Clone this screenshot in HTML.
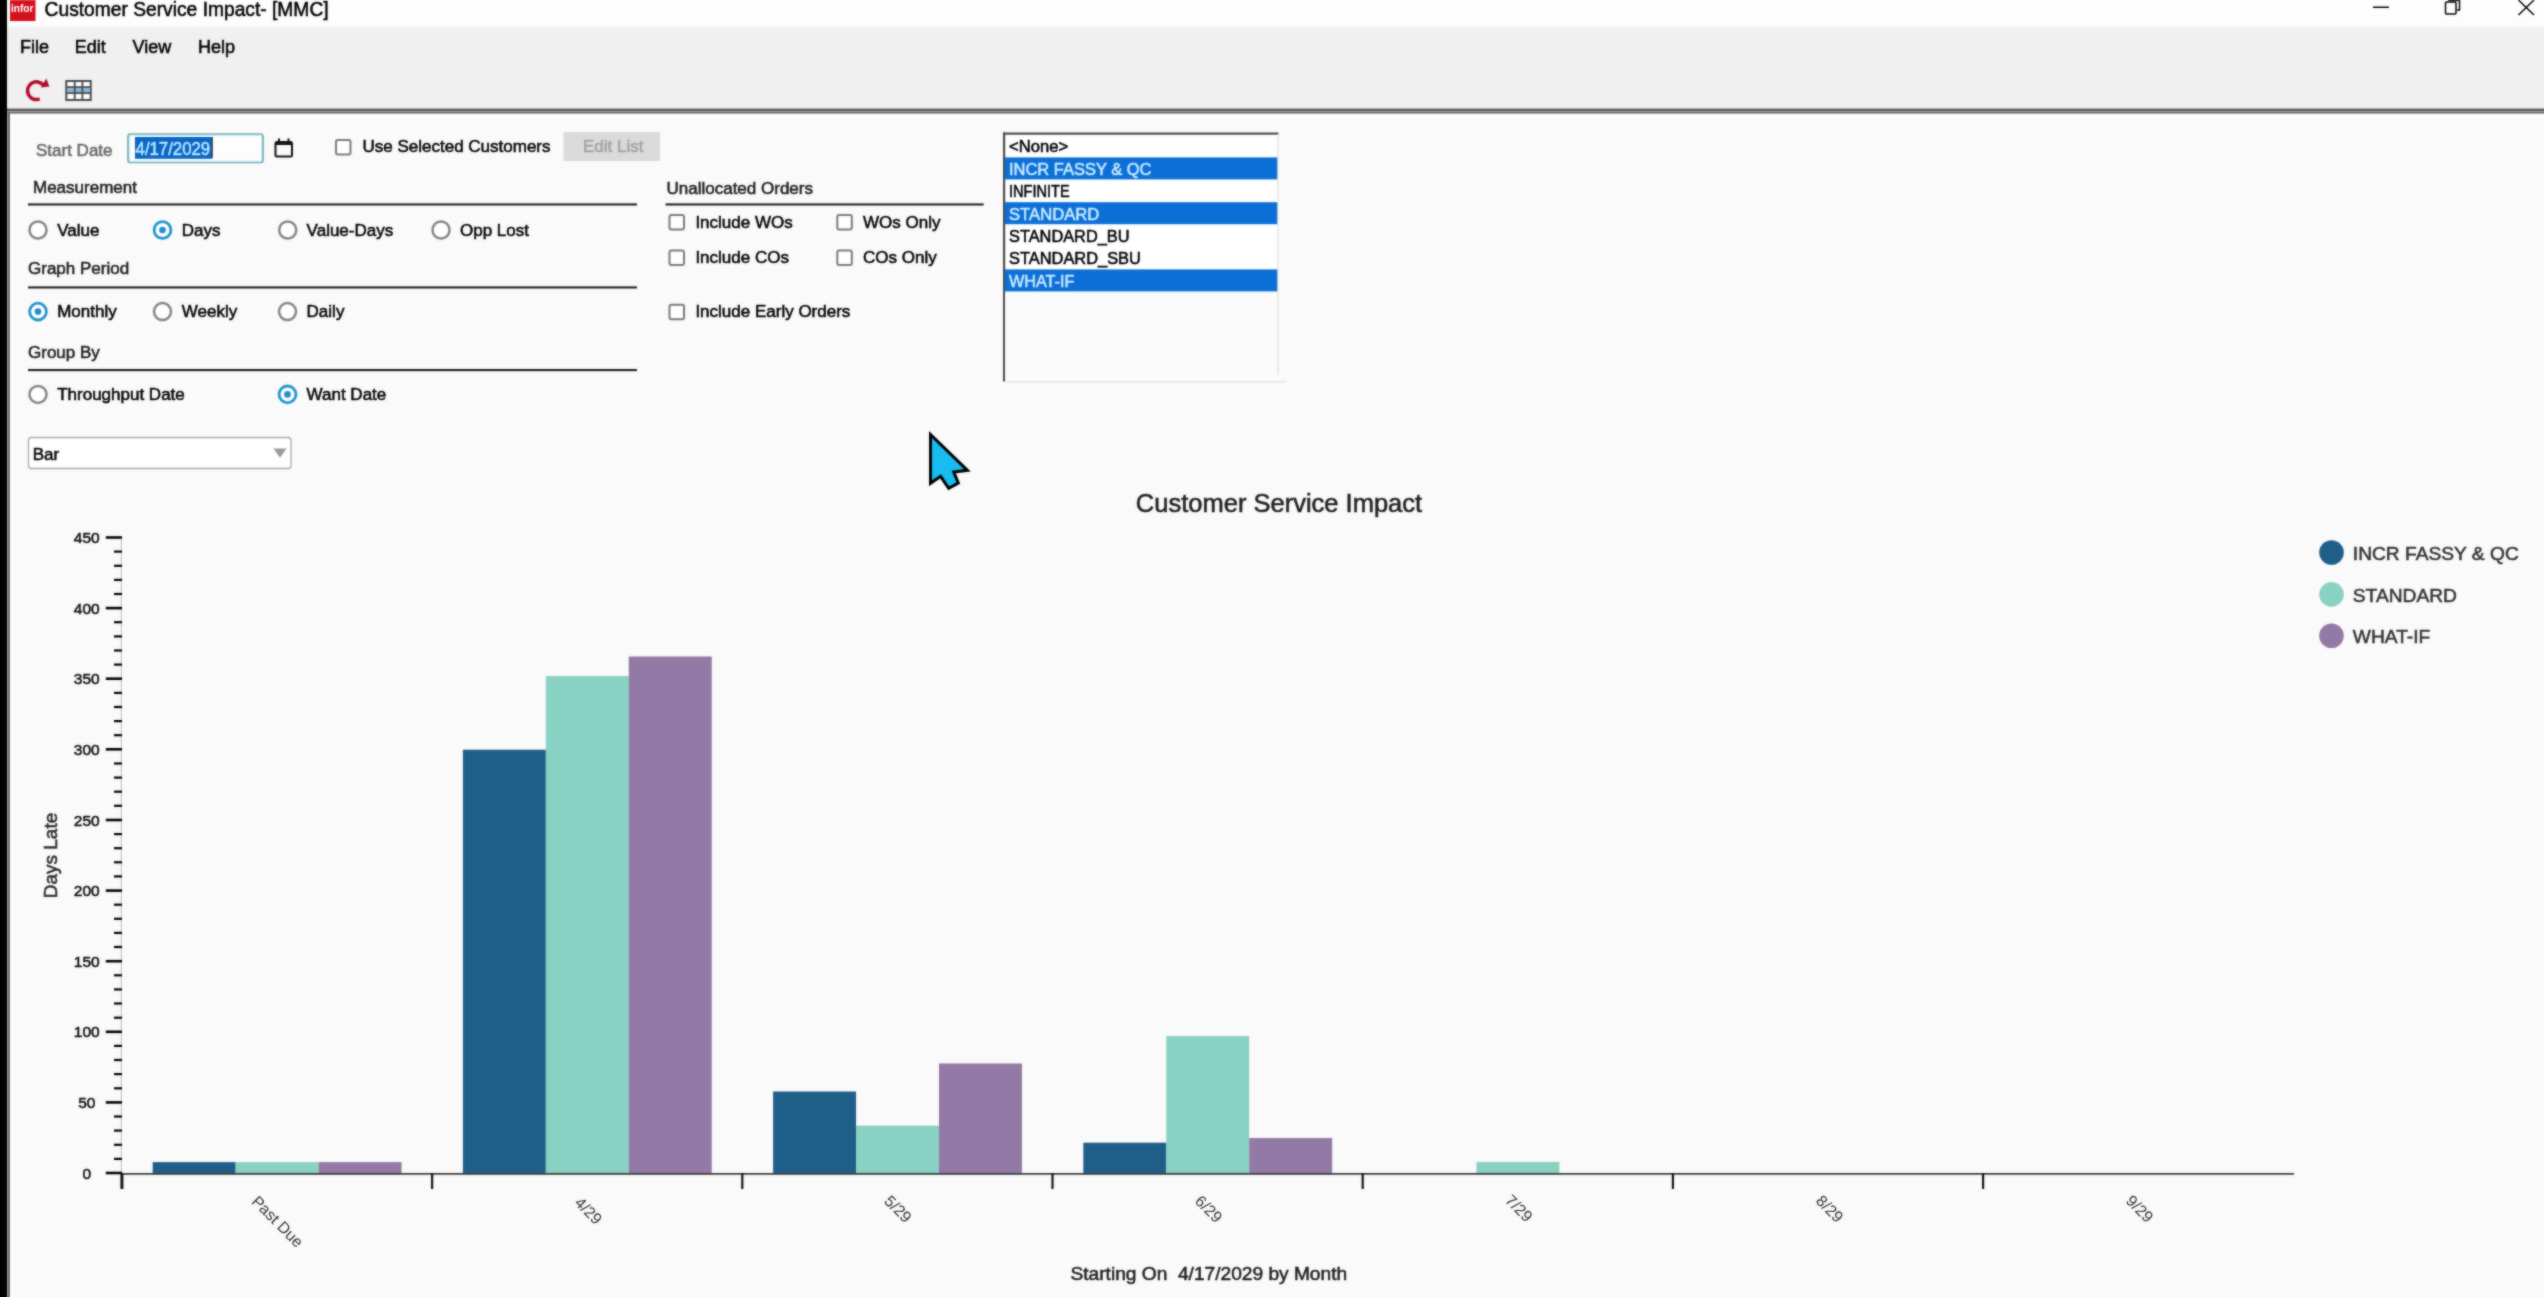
<!DOCTYPE html>
<html><head><meta charset="utf-8"><title>Customer Service Impact- [MMC]</title>
<style>
html,body{margin:0;padding:0;width:2544px;height:1297px;overflow:hidden;background:#fafafa;}
svg{display:block;font-family:"Liberation Sans",Arial,sans-serif;}
text{font-family:"Liberation Sans",Arial,sans-serif;}
</style></head><body>
<svg width="2544" height="1297" viewBox="0 0 2544 1297">
<defs><filter id="soft" filterUnits="userSpaceOnUse" x="-12" y="-12" width="2568" height="1321" color-interpolation-filters="sRGB"><feGaussianBlur in="SourceGraphic" stdDeviation="0.8" result="b"/><feComposite in="SourceGraphic" in2="b" operator="arithmetic" k1="0" k2="0.45" k3="0.55" k4="0"/></filter></defs>
<g filter="url(#soft)">
<!-- backgrounds -->
<rect x="-12" y="-12" width="2568" height="1321" fill="#fafafa"/>
<defs><linearGradient id="tb" x1="0" y1="0" x2="0" y2="1"><stop offset="0" stop-color="#fdfdfd"/><stop offset="1" stop-color="#f0f0f0"/></linearGradient></defs>
<rect x="7" y="-12" width="2549" height="37" fill="#fdfdfd"/>
<rect x="7" y="25" width="2549" height="4" fill="url(#tb)"/>
<rect x="7" y="29" width="2549" height="80" fill="#f0f0f0"/>
<rect x="7" y="108.6" width="2549" height="2.4" fill="#5c5c5c"/>
<rect x="7" y="111" width="2549" height="0.8" fill="#959595"/>
<rect x="7" y="111.8" width="2549" height="2" fill="#707073"/>
<rect x="7" y="113.8" width="2549" height="4" fill="#fdfdfd"/>
<rect x="7" y="113" width="1" height="1196" fill="#9a9a9a"/>
<rect x="8" y="113" width="2" height="1196" fill="#6e6e6e"/>
<rect x="10" y="115" width="3" height="1194" fill="#ffffff"/>
<rect x="-12" y="-12" width="19" height="1321" fill="#000"/>

<!-- title bar -->
<rect x="10" y="0" width="25.5" height="21" fill="#d5101e"/>
<text x="11" y="12.2" font-size="10.5" font-weight="bold" fill="#fff" textLength="22.5" lengthAdjust="spacingAndGlyphs">infor</text>
<text x="44.6" y="16.4" font-size="20.3" fill="#000" textLength="284" lengthAdjust="spacingAndGlyphs" stroke="#000" stroke-width="0.55">Customer Service Impact- [MMC]</text>
<rect x="2373" y="6.5" width="16" height="1.5" fill="#000"/>
<g fill="none" stroke="#000" stroke-width="1.5">
<rect x="2445.5" y="2" width="10.5" height="12" rx="1"/>
<path d="M2449,1 L2449,0 M2449,0.5 L2459.5,0.5 L2459.5,10 L2457,10"/>
<path d="M2518.5,0 L2534,15 M2534,0 L2518.5,15"/>
</g>

<!-- menu -->
<g font-size="18" fill="#000">
<text x="20" y="53.3" stroke="#000" stroke-width="0.55">File</text>
<text x="74.7" y="53.3" stroke="#000" stroke-width="0.55">Edit</text>
<text x="132.6" y="53.3" stroke="#000" stroke-width="0.55">View</text>
<text x="198" y="53.3" stroke="#000" stroke-width="0.55">Help</text>
</g>
<!-- toolbar icons -->
<path d="M43.41,85.22 A8.9,8.9 0 1 0 39.73,98.95" fill="none" stroke="#b10a2c" stroke-width="3.5"/>
<path d="M46.3,78.4 L49.4,86.4 L40.8,87.6 Z" fill="#b10a2c"/>
<g>
<rect x="66.3" y="81" width="24.4" height="19" fill="#fff" stroke="#4a4a4a" stroke-width="2"/>
<rect x="67.3" y="87.2" width="22.4" height="6" fill="#86b9e0"/>
<path d="M66.3,87.2 H90.7 M66.3,93.2 H90.7 M74.7,81 V100 M82.4,81 V100" stroke="#4a4a4a" stroke-width="1.8"/>
</g>

<!-- ===== form ===== -->
<g font-size="17" fill="#050505">
<text x="36" y="155.7" fill="#6a6a6a" stroke="#6a6a6a" stroke-width="0.55">Start Date</text>
<rect x="128" y="134" width="135" height="28.5" rx="2.5" fill="#fdfdfd" stroke="#6fa9b6" stroke-width="1.7"/>
<rect x="129.5" y="135.5" width="132" height="25.5" rx="1.5" fill="none" stroke="#c6f1fb" stroke-width="1"/>
<rect x="135" y="137" width="77" height="21.8" fill="#0a64c4"/>
<text x="135.6" y="154.6" font-size="18.2" fill="#b4e8ff" textLength="74.5" lengthAdjust="spacingAndGlyphs" stroke="#b4e8ff" stroke-width="0.55">4/17/2029</text>
<rect x="211.5" y="137" width="1.3" height="21" fill="#333"/>
<!-- calendar icon -->
<rect x="275.5" y="142" width="16.5" height="14.5" rx="1.5" fill="none" stroke="#111" stroke-width="2"/>
<rect x="275.5" y="142" width="16.5" height="3" fill="#111"/>
<rect x="278" y="138.5" width="2" height="4" fill="#111"/>
<rect x="287.5" y="138.5" width="2" height="4" fill="#111"/>

<rect x="336" y="140" width="14.5" height="14.5" rx="2" fill="#fff" stroke="#7a7a7a" stroke-width="2"/>
<text x="362.5" y="152.3" stroke="#050505" stroke-width="0.55">Use Selected Customers</text>
<rect x="563.5" y="132" width="96.5" height="29" fill="#dadada"/>
<text x="583" y="152.3" fill="#a3a3a3" stroke="#a3a3a3" stroke-width="0.55">Edit List</text>

<text x="33" y="192.7" fill="#1e1e1e" stroke="#1e1e1e" stroke-width="0.55">Measurement</text>
<rect x="28" y="203.4" width="609" height="2.1" fill="#1e1e1e"/>
<text x="28" y="274" fill="#1e1e1e" stroke="#1e1e1e" stroke-width="0.55">Graph Period</text>
<rect x="28" y="286.4" width="609" height="2.1" fill="#1e1e1e"/>
<text x="28" y="358" fill="#1e1e1e" stroke="#1e1e1e" stroke-width="0.55">Group By</text>
<rect x="28" y="369" width="609" height="2.1" fill="#1e1e1e"/>

<!-- radios -->
<g fill="#fff" stroke="#858585" stroke-width="2.5">
<circle cx="38" cy="230" r="8.5"/>
<circle cx="287.7" cy="230" r="8.5"/>
<circle cx="441" cy="230" r="8.5"/>
<circle cx="162.5" cy="311.6" r="8.5"/>
<circle cx="287.5" cy="311.6" r="8.5"/>
<circle cx="38" cy="394.4" r="8.5"/>
</g>
<g fill="#fff" stroke="#2094cc" stroke-width="2.8">
<circle cx="162.5" cy="230" r="8.4"/>
<circle cx="38" cy="311.6" r="8.4"/>
<circle cx="287.5" cy="394.4" r="8.4"/>
</g>
<g fill="#1e8ad2">
<circle cx="162.5" cy="230" r="3.3"/>
<circle cx="38" cy="311.6" r="3.3"/>
<circle cx="287.5" cy="394.4" r="3.3"/>
</g>
<text x="57.2" y="235.7" stroke="#050505" stroke-width="0.55">Value</text>
<text x="181.8" y="235.7" stroke="#050505" stroke-width="0.55">Days</text>
<text x="306.6" y="235.7" stroke="#050505" stroke-width="0.55">Value-Days</text>
<text x="460" y="235.7" stroke="#050505" stroke-width="0.55">Opp Lost</text>
<text x="57.2" y="317.3" stroke="#050505" stroke-width="0.55">Monthly</text>
<text x="181.8" y="317.3" stroke="#050505" stroke-width="0.55">Weekly</text>
<text x="306.6" y="317.3" stroke="#050505" stroke-width="0.55">Daily</text>
<text x="57.2" y="400.1" stroke="#050505" stroke-width="0.55">Throughput Date</text>
<text x="306.6" y="400.1" stroke="#050505" stroke-width="0.55">Want Date</text>

<!-- dropdown -->
<rect x="28.5" y="437.5" width="262.5" height="31" rx="3" fill="#fff" stroke="#a9a9a9" stroke-width="1.3"/>
<text x="32.7" y="459.6" stroke="#050505" stroke-width="0.55">Bar</text>
<path d="M273.5,448.5 L286.5,448.5 L280,457.8 Z" fill="#9a9a9a"/>

<!-- unallocated -->
<text x="666.5" y="194" fill="#1e1e1e" stroke="#1e1e1e" stroke-width="0.55">Unallocated Orders</text>
<rect x="665.6" y="203.4" width="318" height="2.1" fill="#1e1e1e"/>
<g fill="#fff" stroke="#7a7a7a" stroke-width="2">
<rect x="669.5" y="215" width="14.5" height="14.5" rx="2"/>
<rect x="837.3" y="215" width="14.5" height="14.5" rx="2"/>
<rect x="669.5" y="250.5" width="14.5" height="14.5" rx="2"/>
<rect x="837.3" y="250.5" width="14.5" height="14.5" rx="2"/>
<rect x="669.5" y="304.8" width="14.5" height="14.5" rx="2"/>
</g>
<text x="695.4" y="227.6" stroke="#050505" stroke-width="0.55">Include WOs</text>
<text x="863" y="227.6" stroke="#050505" stroke-width="0.55">WOs Only</text>
<text x="695.4" y="263" stroke="#050505" stroke-width="0.55">Include COs</text>
<text x="863" y="263" stroke="#050505" stroke-width="0.55">COs Only</text>
<text x="695.4" y="317.3" stroke="#050505" stroke-width="0.55">Include Early Orders</text>
</g>

<!-- listbox -->
<rect x="1003" y="132.5" width="275.5" height="249" fill="#fff"/>
<rect x="1003" y="132.5" width="2.2" height="249" fill="#4a4a4a"/>
<rect x="1003" y="132.5" width="275.5" height="2.2" fill="#4a4a4a"/>
<rect x="1005" y="291.5" width="272.5" height="88" fill="#fbfbfc"/>
<rect x="1277.3" y="134" width="1.2" height="241" fill="#dedede"/>
<rect x="1007" y="380.8" width="279" height="1.5" fill="#e4e4e4"/>
<g fill="#0c6fd8">
<rect x="1004.8" y="157.4" width="272.4" height="22"/>
<rect x="1004.8" y="202.2" width="272.4" height="22"/>
<rect x="1004.8" y="269.4" width="272.4" height="22"/>
</g>
<g font-size="17" fill="#000">
<text x="1009" y="152.3" textLength="59.1" lengthAdjust="spacingAndGlyphs" stroke="#000" stroke-width="0.55">&lt;None&gt;</text>
<text x="1009" y="174.7" fill="#c8ecff" textLength="142.4" lengthAdjust="spacingAndGlyphs" stroke="#c8ecff" stroke-width="0.55">INCR FASSY &amp; QC</text>
<text x="1009" y="197.1" textLength="60.7" lengthAdjust="spacingAndGlyphs" stroke="#000" stroke-width="0.55">INFINITE</text>
<text x="1009" y="219.5" fill="#c8ecff" textLength="90.3" lengthAdjust="spacingAndGlyphs" stroke="#c8ecff" stroke-width="0.55">STANDARD</text>
<text x="1009" y="241.9" textLength="120.5" lengthAdjust="spacingAndGlyphs" stroke="#000" stroke-width="0.55">STANDARD_BU</text>
<text x="1009" y="264.3" textLength="131.9" lengthAdjust="spacingAndGlyphs" stroke="#000" stroke-width="0.55">STANDARD_SBU</text>
<text x="1009" y="286.7" fill="#c8ecff" textLength="65.3" lengthAdjust="spacingAndGlyphs" stroke="#c8ecff" stroke-width="0.55">WHAT-IF</text>
</g>

<!-- ===== chart ===== -->
<text x="1279" y="512" font-size="25.5" fill="#1e1e1e" text-anchor="middle" stroke="#1e1e1e" stroke-width="0.55">Customer Service Impact</text>

<!-- y axis -->
<line x1="121.3" y1="537" x2="121.3" y2="1173" stroke="#c6c6c6" stroke-width="1.2"/>
<g id="yticks">
<line x1="105.8" y1="1173.0" x2="122" y2="1173.0" stroke="#000" stroke-width="2.6"/>
<text x="86.8" y="1178.6" font-size="15.5" fill="#111" text-anchor="middle" stroke="#111" stroke-width="0.55">0</text>
<line x1="114" y1="1158.9" x2="122" y2="1158.9" stroke="#000" stroke-width="2.2"/>
<line x1="114" y1="1144.8" x2="122" y2="1144.8" stroke="#000" stroke-width="2.2"/>
<line x1="114" y1="1130.6" x2="122" y2="1130.6" stroke="#000" stroke-width="2.2"/>
<line x1="114" y1="1116.5" x2="122" y2="1116.5" stroke="#000" stroke-width="2.2"/>
<line x1="105.8" y1="1102.4" x2="122" y2="1102.4" stroke="#000" stroke-width="2.6"/>
<text x="86.8" y="1108.0" font-size="15.5" fill="#111" text-anchor="middle" stroke="#111" stroke-width="0.55">50</text>
<line x1="114" y1="1088.3" x2="122" y2="1088.3" stroke="#000" stroke-width="2.2"/>
<line x1="114" y1="1074.1" x2="122" y2="1074.1" stroke="#000" stroke-width="2.2"/>
<line x1="114" y1="1060.0" x2="122" y2="1060.0" stroke="#000" stroke-width="2.2"/>
<line x1="114" y1="1045.9" x2="122" y2="1045.9" stroke="#000" stroke-width="2.2"/>
<line x1="105.8" y1="1031.8" x2="122" y2="1031.8" stroke="#000" stroke-width="2.6"/>
<text x="86.8" y="1037.4" font-size="15.5" fill="#111" text-anchor="middle" stroke="#111" stroke-width="0.55">100</text>
<line x1="114" y1="1017.7" x2="122" y2="1017.7" stroke="#000" stroke-width="2.2"/>
<line x1="114" y1="1003.5" x2="122" y2="1003.5" stroke="#000" stroke-width="2.2"/>
<line x1="114" y1="989.4" x2="122" y2="989.4" stroke="#000" stroke-width="2.2"/>
<line x1="114" y1="975.3" x2="122" y2="975.3" stroke="#000" stroke-width="2.2"/>
<line x1="105.8" y1="961.2" x2="122" y2="961.2" stroke="#000" stroke-width="2.6"/>
<text x="86.8" y="966.8" font-size="15.5" fill="#111" text-anchor="middle" stroke="#111" stroke-width="0.55">150</text>
<line x1="114" y1="947.0" x2="122" y2="947.0" stroke="#000" stroke-width="2.2"/>
<line x1="114" y1="932.9" x2="122" y2="932.9" stroke="#000" stroke-width="2.2"/>
<line x1="114" y1="918.8" x2="122" y2="918.8" stroke="#000" stroke-width="2.2"/>
<line x1="114" y1="904.7" x2="122" y2="904.7" stroke="#000" stroke-width="2.2"/>
<line x1="105.8" y1="890.6" x2="122" y2="890.6" stroke="#000" stroke-width="2.6"/>
<text x="86.8" y="896.2" font-size="15.5" fill="#111" text-anchor="middle" stroke="#111" stroke-width="0.55">200</text>
<line x1="114" y1="876.4" x2="122" y2="876.4" stroke="#000" stroke-width="2.2"/>
<line x1="114" y1="862.3" x2="122" y2="862.3" stroke="#000" stroke-width="2.2"/>
<line x1="114" y1="848.2" x2="122" y2="848.2" stroke="#000" stroke-width="2.2"/>
<line x1="114" y1="834.1" x2="122" y2="834.1" stroke="#000" stroke-width="2.2"/>
<line x1="105.8" y1="820.0" x2="122" y2="820.0" stroke="#000" stroke-width="2.6"/>
<text x="86.8" y="825.6" font-size="15.5" fill="#111" text-anchor="middle" stroke="#111" stroke-width="0.55">250</text>
<line x1="114" y1="805.8" x2="122" y2="805.8" stroke="#000" stroke-width="2.2"/>
<line x1="114" y1="791.7" x2="122" y2="791.7" stroke="#000" stroke-width="2.2"/>
<line x1="114" y1="777.6" x2="122" y2="777.6" stroke="#000" stroke-width="2.2"/>
<line x1="114" y1="763.5" x2="122" y2="763.5" stroke="#000" stroke-width="2.2"/>
<line x1="105.8" y1="749.3" x2="122" y2="749.3" stroke="#000" stroke-width="2.6"/>
<text x="86.8" y="754.9" font-size="15.5" fill="#111" text-anchor="middle" stroke="#111" stroke-width="0.55">300</text>
<line x1="114" y1="735.2" x2="122" y2="735.2" stroke="#000" stroke-width="2.2"/>
<line x1="114" y1="721.1" x2="122" y2="721.1" stroke="#000" stroke-width="2.2"/>
<line x1="114" y1="707.0" x2="122" y2="707.0" stroke="#000" stroke-width="2.2"/>
<line x1="114" y1="692.9" x2="122" y2="692.9" stroke="#000" stroke-width="2.2"/>
<line x1="105.8" y1="678.7" x2="122" y2="678.7" stroke="#000" stroke-width="2.6"/>
<text x="86.8" y="684.3" font-size="15.5" fill="#111" text-anchor="middle" stroke="#111" stroke-width="0.55">350</text>
<line x1="114" y1="664.6" x2="122" y2="664.6" stroke="#000" stroke-width="2.2"/>
<line x1="114" y1="650.5" x2="122" y2="650.5" stroke="#000" stroke-width="2.2"/>
<line x1="114" y1="636.4" x2="122" y2="636.4" stroke="#000" stroke-width="2.2"/>
<line x1="114" y1="622.2" x2="122" y2="622.2" stroke="#000" stroke-width="2.2"/>
<line x1="105.8" y1="608.1" x2="122" y2="608.1" stroke="#000" stroke-width="2.6"/>
<text x="86.8" y="613.7" font-size="15.5" fill="#111" text-anchor="middle" stroke="#111" stroke-width="0.55">400</text>
<line x1="114" y1="594.0" x2="122" y2="594.0" stroke="#000" stroke-width="2.2"/>
<line x1="114" y1="579.9" x2="122" y2="579.9" stroke="#000" stroke-width="2.2"/>
<line x1="114" y1="565.8" x2="122" y2="565.8" stroke="#000" stroke-width="2.2"/>
<line x1="114" y1="551.6" x2="122" y2="551.6" stroke="#000" stroke-width="2.2"/>
<line x1="105.8" y1="537.5" x2="122" y2="537.5" stroke="#000" stroke-width="2.6"/>
<text x="86.8" y="543.1" font-size="15.5" fill="#111" text-anchor="middle" stroke="#111" stroke-width="0.55">450</text>
</g>
<text transform="translate(57.3,855.5) rotate(-90)" font-size="19" fill="#2a2a2a" text-anchor="middle" stroke="#2a2a2a" stroke-width="0.55">Days Late</text>

<!-- bars -->
<g id="bars">
<rect x="152.70" y="1162.1" width="82.95" height="12.1" fill="#1f5e89"/>
<rect x="235.65" y="1162.1" width="82.95" height="12.1" fill="#89d1c3"/>
<rect x="318.60" y="1162.1" width="82.95" height="12.1" fill="#9379a5"/>
<rect x="462.90" y="749.7" width="82.95" height="424.5" fill="#1f5e89"/>
<rect x="545.85" y="676.0" width="82.95" height="498.2" fill="#89d1c3"/>
<rect x="628.80" y="656.5" width="82.95" height="517.7" fill="#9379a5"/>
<rect x="773.10" y="1091.5" width="82.95" height="82.7" fill="#1f5e89"/>
<rect x="856.05" y="1125.7" width="82.95" height="48.5" fill="#89d1c3"/>
<rect x="939.00" y="1063.5" width="82.95" height="110.7" fill="#9379a5"/>
<rect x="1083.30" y="1142.7" width="82.95" height="31.5" fill="#1f5e89"/>
<rect x="1166.25" y="1036.0" width="82.95" height="138.2" fill="#89d1c3"/>
<rect x="1249.20" y="1138.0" width="82.95" height="36.2" fill="#9379a5"/>
<rect x="1476.45" y="1161.9" width="82.95" height="12.3" fill="#89d1c3"/>
</g>
<!-- x axis -->
<line x1="122" y1="1173.9" x2="2294" y2="1173.9" stroke="#3a3a3a" stroke-width="1.8"/>
<g id="xticks">
<line x1="121.9" y1="1173" x2="121.9" y2="1189" stroke="#111" stroke-width="3"/>
<line x1="432.1" y1="1173" x2="432.1" y2="1189" stroke="#111" stroke-width="2.2"/>
<line x1="742.3" y1="1173" x2="742.3" y2="1189" stroke="#111" stroke-width="2.2"/>
<line x1="1052.5" y1="1173" x2="1052.5" y2="1189" stroke="#111" stroke-width="2.2"/>
<line x1="1362.7" y1="1173" x2="1362.7" y2="1189" stroke="#111" stroke-width="2.2"/>
<line x1="1672.9" y1="1173" x2="1672.9" y2="1189" stroke="#111" stroke-width="2.2"/>
<line x1="1983.1" y1="1173" x2="1983.1" y2="1189" stroke="#111" stroke-width="2.2"/>
<text x="0" y="0" font-size="15.8" fill="#333" stroke="none" text-anchor="middle" dominant-baseline="central" transform="translate(277.6,1221.5) rotate(45)">Past Due</text>
<text x="0" y="0" font-size="15.8" fill="#333" stroke="none" text-anchor="middle" dominant-baseline="central" transform="translate(588.5,1210.7) rotate(45)">4/29</text>
<text x="0" y="0" font-size="15.8" fill="#333" stroke="none" text-anchor="middle" dominant-baseline="central" transform="translate(898.1,1209.0) rotate(45)">5/29</text>
<text x="0" y="0" font-size="15.8" fill="#333" stroke="none" text-anchor="middle" dominant-baseline="central" transform="translate(1208.8,1209.0) rotate(45)">6/29</text>
<text x="0" y="0" font-size="15.8" fill="#333" stroke="none" text-anchor="middle" dominant-baseline="central" transform="translate(1519.0,1208.2) rotate(45)">7/29</text>
<text x="0" y="0" font-size="15.8" fill="#333" stroke="none" text-anchor="middle" dominant-baseline="central" transform="translate(1829.8,1208.8) rotate(45)">8/29</text>
<text x="0" y="0" font-size="15.8" fill="#333" stroke="none" text-anchor="middle" dominant-baseline="central" transform="translate(2139.8,1208.8) rotate(45)">9/29</text>
</g>
<text x="1208.8" y="1280.2" font-size="19.15" fill="#1e1e1e" text-anchor="middle" xml:space="preserve" stroke="#1e1e1e" stroke-width="0.55">Starting On  4/17/2029 by Month</text>

<!-- legend -->
<circle cx="2331.5" cy="552.5" r="12.3" fill="#1f5e89"/>
<circle cx="2331.5" cy="594.4" r="12.3" fill="#89d1c3"/>
<circle cx="2331.5" cy="635.8" r="12.3" fill="#9379a5"/>
<g font-size="19.2" fill="#333">
<text x="2352.8" y="560" stroke="#333" stroke-width="0.55">INCR FASSY &amp; QC</text>
<text x="2352.8" y="601.7" stroke="#333" stroke-width="0.55">STANDARD</text>
<text x="2352.8" y="643.2" stroke="#333" stroke-width="0.55">WHAT-IF</text>
</g>

<!-- cursor -->
<path d="M930.5,434.5 L967.5,470.3 L953.8,472 L958.3,483 L948.7,488.3 L940.6,476.3 L930.5,483.3 Z" fill="#17bdf0" stroke="#000" stroke-width="3" stroke-linejoin="miter"/>
</g>
</svg>
</body></html>
